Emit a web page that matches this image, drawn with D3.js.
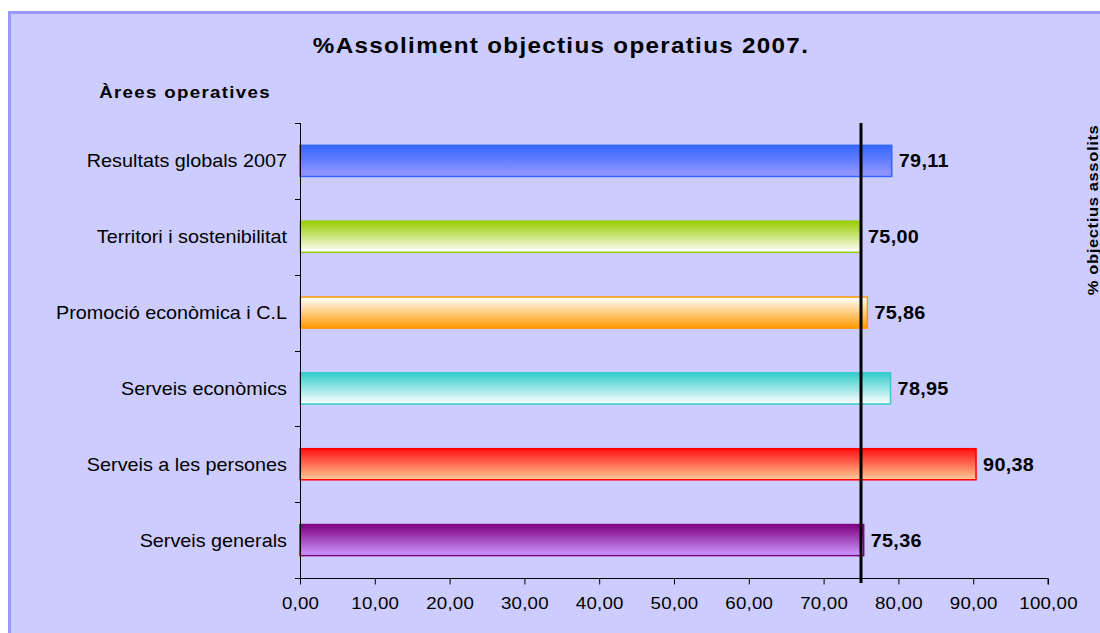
<!DOCTYPE html>
<html>
<head>
<meta charset="utf-8">
<script src="https://cdn.jsdelivr.net/npm/d3@7"></script>
<style>
  body { margin: 0; background: #fff; }
  svg text { font-family: "Liberation Sans", Arial, sans-serif; }
</style>
</head>
<body>
<div id="chart"></div>
<script>
// data
const categories = ["Resultats globals 2007", "Territori i sostenibilitat", "Promoció econòmica i C.L",
  "Serveis econòmics", "Serveis a les persones", "Serveis generals"]
const values = [79.11, 75.00, 75.86, 78.95, 90.38, 75.36]
const targetValue = 75
const xTicks = [0, 10, 20, 30, 40, 50, 60, 70, 80, 90, 100]

// bar colours: [stroke, top of gradient, bottom of gradient]
const barColors = [
  ["#3366ff", "#3366ff", "#9999ff"],
  ["#99cc00", "#99cc00", "#ffffff"],
  ["#ff9900", "#ffffff", "#ff9900"],
  ["#33cccc", "#33cccc", "#ffffff"],
  ["#ff0000", "#ff1010", "#ffcc99"],
  ["#800080", "#800080", "#cc99ff"]
]

// the original text looks a bit stretched sideways
const sx = 1.1

function drawChart() {
  const width = 1100, height = 633
  const margin = {top: 123, right: 52, bottom: 55, left: 300}

  const svg = d3.select("#chart").append("svg")
    .attr("width", width)
    .attr("height", height)

  // background panel with border on top and left
  svg.append("rect")
    .attr("x", 8).attr("y", 11)
    .attr("width", width - 8).attr("height", height - 11)
    .attr("fill", "#ccccff")
  svg.append("line")
    .attr("x1", 8).attr("x2", width).attr("y1", 12.5).attr("y2", 12.5)
    .attr("stroke", "#9999ff").attr("stroke-width", 3)
  svg.append("line")
    .attr("x1", 9.5).attr("x2", 9.5).attr("y1", 11).attr("y2", height)
    .attr("stroke", "#9999ff").attr("stroke-width", 3)

  const x = d3.scaleLinear()
    .domain([0, 100])
    .range([margin.left, width - margin.right])

  const y = d3.scaleBand()
    .domain(categories)
    .range([margin.top, height - margin.bottom])
    .paddingInner(0.59)
    .paddingOuter(0.295)

  // gradients
  const defs = svg.append("defs")
  barColors.forEach((c, i) => {
    const g = defs.append("linearGradient")
      .attr("id", "grad" + i)
      .attr("x1", 0).attr("y1", 0).attr("x2", 0).attr("y2", 1)
    g.append("stop").attr("offset", "0%").attr("stop-color", c[1])
    g.append("stop").attr("offset", "100%").attr("stop-color", c[2])
  })

  // bars
  svg.selectAll(".bar")
    .data(values)
    .join("rect")
      .attr("class", "bar")
      .attr("x", x(0))
      .attr("y", (d, i) => y(categories[i]))
      .attr("width", d => x(d) - x(0))
      .attr("height", y.bandwidth())
      .attr("fill", (d, i) => `url(#grad${i})`)
      .attr("stroke", (d, i) => barColors[i][0])
      .attr("stroke-width", 1.5)

  // value labels
  svg.selectAll(".val")
    .data(values)
    .join("text")
      .attr("class", "val")
      .attr("transform", (d, i) => `translate(${x(d) + 7},${y(categories[i]) + y.bandwidth() / 2}) scale(${sx},1)`)
      .attr("dy", "0.36em")
      .attr("font-size", 18)
      .attr("font-weight", "bold")
      .attr("letter-spacing", 0.3)
      .text(d => d.toFixed(2).replace(".", ","))

  // y axis (category boundaries as ticks)
  const yAxis = svg.append("g")
  yAxis.append("line")
    .attr("x1", x(0) + 0.5).attr("x2", x(0) + 0.5)
    .attr("y1", margin.top).attr("y2", height - margin.bottom)
    .attr("stroke", "#000")
  d3.range(categories.length + 1).forEach(i => {
    const yy = Math.round(margin.top + i * (height - margin.bottom - margin.top) / categories.length) + 0.5
    yAxis.append("line")
      .attr("x1", x(0) - 5).attr("x2", x(0))
      .attr("y1", yy).attr("y2", yy)
      .attr("stroke", "#000")
  })
  yAxis.selectAll(".cat")
    .data(categories)
    .join("text")
      .attr("class", "cat")
      .attr("transform", d => `translate(${x(0) - 13},${y(d) + y.bandwidth() / 2}) scale(${sx},1)`)
      .attr("dy", "0.36em")
      .attr("text-anchor", "end")
      .attr("font-size", 18)
      .text(d => d)

  // x axis
  const xAxis = d3.axisBottom(x)
    .tickValues(xTicks)
    .tickSize(6)
    .tickPadding(12)
    .tickFormat(d => d.toFixed(2).replace(".", ","))
  const gx = svg.append("g")
    .attr("transform", `translate(0,${height - margin.bottom + 0.5})`)
    .call(xAxis)
  gx.select(".domain").attr("d", `M${x(0)},0H${x(100)}V6`)
  gx.selectAll("text")
    .attr("font-size", 17)
    .attr("letter-spacing", 0.2)
    .attr("transform", `scale(${sx},1)`)
    .attr("font-family", "Liberation Sans, Arial, sans-serif")
    .attr("fill", "#000")

  // target line at 75
  svg.append("line")
    .attr("x1", x(targetValue)).attr("x2", x(targetValue))
    .attr("y1", margin.top).attr("y2", height - margin.bottom + 5)
    .attr("stroke", "#000")
    .attr("stroke-width", 3)

  // titles
  svg.append("text")
    .attr("transform", `translate(561,53) scale(${sx},1)`)
    .attr("text-anchor", "middle")
    .attr("font-size", 22)
    .attr("font-weight", "bold")
    .attr("letter-spacing", 1.2)
    .text("%Assoliment objectius operatius 2007.")

  svg.append("text")
    .attr("transform", `translate(185,98) scale(${sx},1)`)
    .attr("text-anchor", "middle")
    .attr("font-size", 17)
    .attr("font-weight", "bold")
    .attr("letter-spacing", 1.2)
    .text("Àrees operatives")

  svg.append("text")
    .attr("transform", "translate(1098,210) rotate(-90) scale(1.1,1)")
    .attr("text-anchor", "middle")
    .attr("font-size", 15)
    .attr("font-weight", "bold")
    .attr("letter-spacing", 0.6)
    .text("% objectius assolits")
}

drawChart()
</script>
</body>
</html>
